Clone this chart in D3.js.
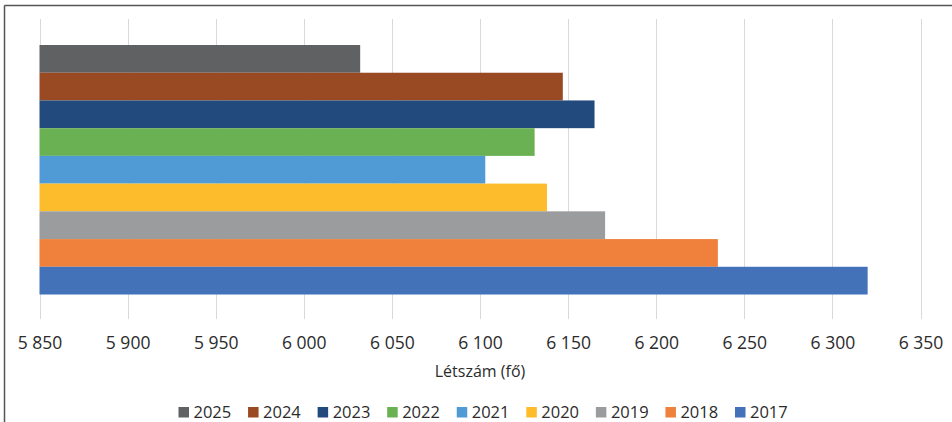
<!DOCTYPE html>
<html>
<head>
<meta charset="utf-8">
<script src="https://cdn.jsdelivr.net/npm/d3@7"></script>
<style>
  body { margin: 0; background: #fff; }
  svg { display: block; font-family: "Open Sans", sans-serif; }
</style>
</head>
<body>
<div id="chart"></div>
<script>
// data, top bar first
var years = ["2025", "2024", "2023", "2022", "2021", "2020", "2019", "2018", "2017"];
var values = [6032, 6147, 6165, 6131, 6103, 6138, 6171, 6235, 6320];
var colors = ["#5f6162", "#9a4a22", "#234a7c", "#6ab154", "#509bd6", "#fdbc2c", "#9b9c9d", "#ef813d", "#4372b8"];
var ticks = [5850, 5900, 5950, 6000, 6050, 6100, 6150, 6200, 6250, 6300, 6350];

var width = 952, height = 422;

var svg = d3.select("#chart")
    .append("svg")
    .attr("width", width)
    .attr("height", height);

// frame (only top and left edges show in the picture)
svg.append("line").attr("x1", 4.5).attr("x2", width).attr("y1", 5.5).attr("y2", 5.5)
    .attr("stroke", "#555").attr("stroke-width", 1.5);
svg.append("line").attr("x1", 4.5).attr("x2", 4.5).attr("y1", 5.5).attr("y2", height)
    .attr("stroke", "#555").attr("stroke-width", 1.5);

var x = d3.scaleLinear()
    .domain([5850, 6350])
    .range([39.5, 920.5]);

var y = d3.scaleBand()
    .domain(years)
    .range([45, 294.5])
    .padding(0);

// gridlines
svg.append("g")
    .selectAll("line")
    .data(ticks)
    .enter().append("line")
    .attr("x1", function(d) { return Math.round(x(d)) + 0.5; })
    .attr("x2", function(d) { return Math.round(x(d)) + 0.5; })
    .attr("y1", 19)
    .attr("y2", 319)
    .attr("stroke", "#d9d9d9")
    .attr("stroke-width", 1);

// bars
svg.append("g")
    .selectAll("rect")
    .data(years)
    .enter().append("rect")
    .attr("x", x(5850))
    .attr("y", function(d) { return y(d); })
    .attr("width", function(d, i) { return x(values[i]) - x(5850); })
    .attr("height", y.bandwidth())
    .attr("fill", function(d, i) { return colors[i]; });

// x axis labels
var xAxis = d3.axisBottom(x)
    .tickValues(ticks)
    .tickSize(0)
    .tickPadding(0)
    .tickFormat(function(d) { return d3.format(",")(d).replace(",", " "); });

var gx = svg.append("g")
    .attr("transform", "translate(0,337)")
    .call(xAxis);
gx.select(".domain").remove();
gx.selectAll("text")
    .attr("font-family", "Open Sans, sans-serif")
    .attr("font-size", 17.5)
    .attr("fill", "#2b2b2b");

// axis title
svg.append("text")
    .attr("x", (x(5850) + x(6350)) / 2)
    .attr("y", 377)
    .attr("text-anchor", "middle")
    .attr("font-size", 16)
    .attr("fill", "#2b2b2b")
    .text("Létszám (fő)");

// legend
var legendX = d3.scalePoint()
    .domain(years)
    .range([178.5, 735]);

var legend = svg.append("g")
    .selectAll("g")
    .data(years)
    .enter().append("g")
    .attr("transform", function(d) { return "translate(" + legendX(d) + ",407)"; });

legend.append("rect")
    .attr("width", 10.5)
    .attr("height", 10.5)
    .attr("fill", function(d, i) { return colors[i]; });

legend.append("text")
    .attr("x", 15)
    .attr("y", 11)
    .attr("font-size", 16.5)
    .attr("fill", "#2b2b2b")
    .text(function(d) { return d; });
</script>
</body>
</html>
